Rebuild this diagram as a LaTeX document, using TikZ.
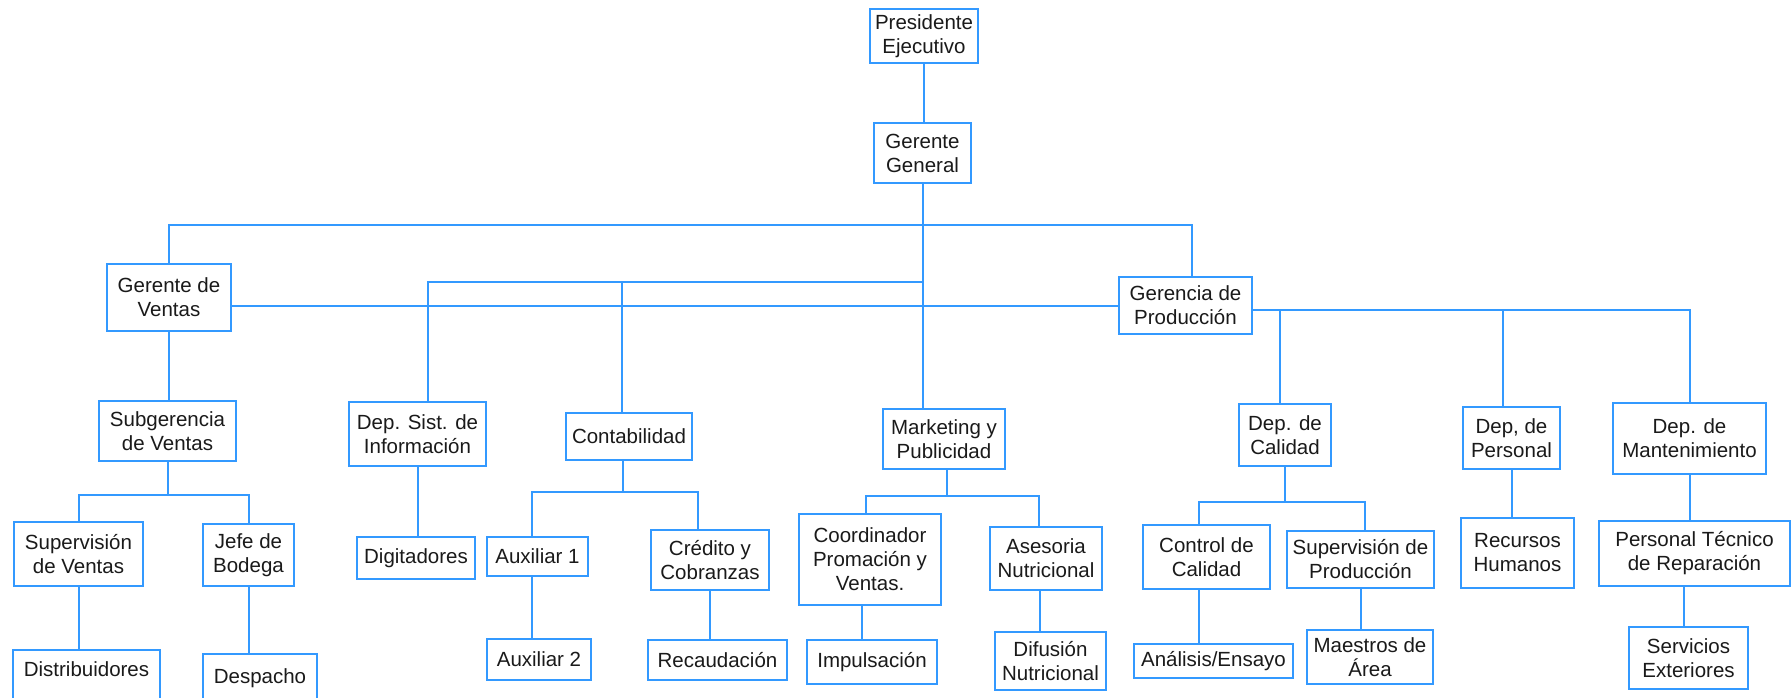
\documentclass[tikz,border=0pt]{standalone}
\usepackage{fontspec}
\setmainfont{Liberation Sans}
\definecolor{orgline}{HTML}{3399FF}
\definecolor{orgtext}{HTML}{1A1A1A}

\begin{document}
\begin{tikzpicture}[x=1pt, y=-1pt,
  box/.style 2 args={draw=orgline, line width=2pt, fill=white, inner sep=0pt, align=center,
              text=orgtext, font=\fontsize{20.5}{24}\selectfont, minimum width=#1, minimum height=#2},
  link/.style={draw=orgline, line width=2pt}
]
\useasboundingbox (0,0) rectangle (1791,697);
\clip (0,0) rectangle (1791,697);
\fill[white] (0,0) rectangle (1791,697);

\coordinate (bus1) at (0,225);
\coordinate (bus2) at (0,282);
\coordinate (bus3) at (0,310);

\node[box={108}{54}] (pres) at (924,36)    {Presidente\\Ejecutivo};
\node[box={97}{60}]  (gg)   at (922.5,153) {Gerente\\General};
\node[box={124}{67}] (gv)   at (169,297.5) {Gerente de\\Ventas};
\node[box={133}{57}] (gp)   at (1185.5,305.5) {Gerencia de\\Producción};

\node[box={137}{60}] (subv) at (167.5,431) {Subgerencia\\de Ventas};
\node[box={129}{64}] (supv) at (78.5,554)  {Supervisión\\de Ventas};
\node[box={91}{62}]  (jefe) at (248.5,555) {Jefe de\\Bodega};
\node[box={147}{0}, anchor=north, text height=26, text depth=60] (dist) at (86.5,649) {Distribuidores};
\node[box={114}{0}, anchor=north, text height=29, text depth=60] (desp) at (260,653) {Despacho};

\node[box={137}{64}] (dsi)  at (417.5,434) {Dep. Sist. de\\Información};
\node[box={118}{42}] (digi) at (416,558)   {Digitadores};

\node[box={126}{47}] (cont) at (629,436.5) {Contabilidad};
\node[box={101}{39}] (aux1) at (537.5,556.5) {Auxiliar 1};
\node[box={104}{41}] (aux2) at (539,659.5) {Auxiliar 2};
\node[box={118}{60}] (cred) at (710,560)   {Crédito y\\Cobranzas};
\node[box={139}{40}] (reca) at (717.5,660) {Recaudación};

\node[box={122}{60}] (mkt)  at (944,439)   {Marketing y\\Publicidad};
\node[box={142}{91}] (coord) at (870,559.5) {Coordinador\\Promación y\\Ventas.};
\node[box={130}{44}] (impu) at (872,662)   {Impulsación};
\node[box={112}{63}] (ases) at (1046,558.5) {Asesoria\\Nutricional};
\node[box={111}{58}] (difu) at (1050.5,661) {Difusión\\Nutricional};

\node[box={92}{62}]  (dcal) at (1285,435)  {Dep. de\\Calidad};
\node[box={127}{64}] (ccal) at (1206.5,557) {Control de\\Calidad};
\node[box={159}{34}] (anal) at (1213.5,661) {Análisis/Ensayo};
\node[box={147}{57}] (supp) at (1360.5,559.5) {Supervisión de\\Producción};
\node[box={126}{54}] (maes) at (1370,657)  {Maestros de\\Área};

\node[box={97}{62}]  (dper) at (1511.5,438) {Dep, de\\Personal};
\node[box={113}{70}] (rrhh) at (1517.5,553) {Recursos\\Humanos};

\node[box={153}{71}] (dman) at (1689.5,438.5) {Dep. de\\Mantenimiento};
\node[box={191}{65}] (ptec) at (1694.5,553.5) {Personal Técnico\\de Reparación};
\node[box={119}{62}] (serv) at (1688.5,658) {Servicios\\Exteriores};

\draw[link] (pres.south) -- (pres.south |- gg.north);
\draw[link] (gg.south) -- (gg.south |- mkt.north);
\draw[link] (gv.north) -- (gv.north |- bus1) -| ([xshift=6]gp.north);
\draw[link] ([xshift=10]dsi.north) |- (gg.south |- bus2);
\draw[link] ([xshift=-7]cont.north) -- ([xshift=-7]cont.north |- bus2);
\draw[link] (gv.east |- gp.west) -- (gp.west);
\draw[link] (gp.east |- bus3) -| (dman.north);
\draw[link] ([xshift=-5]dcal.north) -- ([xshift=-5]dcal.north |- bus3);
\draw[link] ([xshift=-9]dper.north) -- ([xshift=-9]dper.north |- bus3);

\draw[link] (gv.south) -- (gv.south |- subv.north);
\draw[link] (subv.south) -- ++(0,33) -| (supv.north);
\draw[link] (subv.south) ++(0,33) -| (jefe.north);
\draw[link] (supv.south) -- (supv.south |- dist.north);
\draw[link] (jefe.south) -- (jefe.south |- desp.north);

\draw[link] (dsi.south) -- (dsi.south |- digi.north);

\draw[link] ([xshift=-6]cont.south) -- ++(0,31) -| ([xshift=-6]aux1.north);
\draw[link] ([xshift=-6]cont.south) ++(0,31) -| ([xshift=-12]cred.north);
\draw[link] ([xshift=-6]aux1.south) -- ([xshift=-6]aux1.south |- aux2.north);
\draw[link] (cred.south) -- (cred.south |- reca.north);

\draw[link] ([xshift=3]mkt.south) -- ++(0,26) -| ([xshift=-4]coord.north);
\draw[link] ([xshift=3]mkt.south) ++(0,26) -| ([xshift=-7]ases.north);
\draw[link] ([xshift=-8]coord.south) -- ([xshift=-8]coord.south |- impu.north);
\draw[link] ([xshift=-6]ases.south) -- ([xshift=-6]ases.south |- difu.north);

\draw[link] (dcal.south) -- ++(0,35) -| ([xshift=-8]ccal.north);
\draw[link] (dcal.south) ++(0,35) -| ([xshift=4]supp.north);
\draw[link] ([xshift=-8]ccal.south) -- ([xshift=-8]ccal.south |- anal.north);
\draw[link] (supp.south) -- (supp.south |- maes.north);

\draw[link] (dper.south) -- (dper.south |- rrhh.north);
\draw[link] (dman.south) -- (dman.south |- ptec.north);
\draw[link] ([xshift=-11]ptec.south) -- ([xshift=-11]ptec.south |- serv.north);
\end{tikzpicture}
\end{document}
